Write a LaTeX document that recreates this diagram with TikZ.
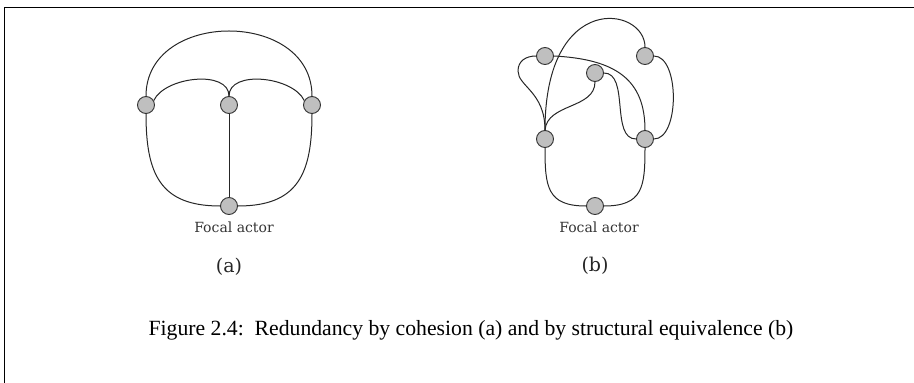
\documentclass[tikz,border=0pt]{standalone}
\usepackage{fontspec}
\setmainfont{Liberation Serif}
\newfontfamily\dejaserif{DejaVu Serif}
\begin{document}
\begin{tikzpicture}[x=1pt,y=-1pt,
  actor/.style={circle,draw=black!80,fill=black!25,line width=0.9pt,minimum size=17pt,inner sep=0pt},
  tie/.style={line width=1pt,draw=black!85},
  tag/.style={font=\dejaserif\fontsize{14}{16}\selectfont,text=black!80},
  sub/.style={font=\dejaserif\fontsize{19}{22}\selectfont,text=black!85},
  frameline/.style={line width=1pt}]
\useasboundingbox (0,0) rectangle (914,383);
\draw[frameline] (4,383) -- (4,7) -- (914,7);

% cohesion: three contacts tied to each other and to the focal actor
\node[actor] (aL) at (146,105) {};
\node[actor] (aM) at (229,105) {};
\node[actor] (aR) at (312,105) {};
\node[actor] (aF) at (229,206) {};
\node[tag] (aFt) at (234,227) {Focal actor};
\node[sub] (acap) at (229,267) {(a)};

\draw[tie] (aL.north) to[out=90,in=90,looseness=1.34] (aR.north);
\draw[tie] (aL.30) to[out=65,in=90,looseness=0.9] (aM.north);
\draw[tie] (aM.north) to[out=90,in=115,looseness=0.9] (aR.150);
\draw[tie] (aL.south) to[out=-90,in=180,looseness=1.3] (aF.west);
\draw[tie] (aR.south) to[out=-90,in=0,looseness=1.3] (aF.east);
\draw[tie] (aM) -- (aF);

% structural equivalence
\node[actor] (bA) at (545,56) {};
\node[actor] (bB) at (645,56) {};
\node[actor] (bC) at (595,73) {};
\node[actor] (bD) at (545,139) {};
\node[actor] (bE) at (645,139) {};
\node[actor] (bF) at (595,206) {};
\node[tag] (bFt) at (599,227) {Focal actor};
\node[sub] (bcap) at (595,266) {(b)};
\coordinate (bLoop) at (518,71);

\draw[tie] (bD.south) to[out=-90,in=180,looseness=1.4] (bF.west);
\draw[tie] (bE.south) to[out=-90,in=0,looseness=1.4] (bF.east);
\draw[tie] (bD.north) to[out=90,in=90,out looseness=2.75,in looseness=0.8] (bB.north);
\draw[tie] (bA.east) to[out=-3,in=90,out looseness=1.35,in looseness=1.1] (bE.north);
\draw[tie] (bA.west) to[out=180,in=90,looseness=1.1] (bLoop)
                     to[out=-90,in=90,out looseness=0.6,in looseness=1.5] (bD.north);
\draw[tie] (bC.south) to[out=-90,in=85,looseness=1] (bD.north);
\draw[tie] (bC.east) to[out=0,in=180,looseness=0.9] (bE.west);
\draw[tie] (bB.east) to[out=0,in=0,looseness=0.8] (bE.east);

\node[font=\fontsize{21.7}{26}\selectfont] (caption) at (471,330)
  {Figure 2.4:\ \ Redundancy by cohesion (a) and by structural equivalence (b)};
\end{tikzpicture}
\end{document}
